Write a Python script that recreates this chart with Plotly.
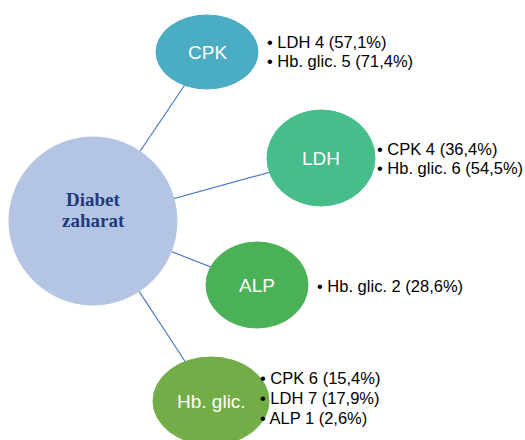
import plotly.graph_objects as go

# Central condition and the linked markers
center_lines = ["Diabet", "zaharat"]
nodes = ["CPK", "LDH", "ALP", "Hb. glic."]
details = {
    "CPK": ["LDH 4 (57,1%)", "Hb. glic. 5 (71,4%)"],
    "LDH": ["CPK 4 (36,4%)", "Hb. glic. 6 (54,5%)"],
    "ALP": ["Hb. glic. 2 (28,6%)"],
    "Hb. glic.": ["CPK 6 (15,4%)", "LDH 7 (17,9%)", "ALP 1 (2,6%)"],
}

# Diagram layout (pixel space, y downwards)
center_geom = dict(cx=93, cy=221, rx=84, ry=84, color="#B4C5E3",
                   text_y0=199, text_dy=21)
node_geom = {
    "CPK": dict(cx=207, cy=52, rx=51, ry=37, color="#4AADC4"),
    "LDH": dict(cx=321, cy=158, rx=54, ry=48, color="#47BD8B"),
    "ALP": dict(cx=257, cy=285, rx=51, ry=43, color="#4AB156"),
    "Hb. glic.": dict(cx=211, cy=401, rx=58, ry=44, color="#72AD47"),
}
detail_geom = {
    "CPK": dict(x=265, y0=42, dy=19),
    "LDH": dict(x=375, y0=149, dy=18.5),
    "ALP": dict(x=315, y0=286, dy=19),
    "Hb. glic.": dict(x=258, y0=378, dy=20.2),
}
line_color = "#4A76C8"

shapes = []
annotations = []

# Connectors, drawn first so the bubbles cover their ends
for n in nodes:
    g = node_geom[n]
    shapes.append(dict(type="line", xref="x", yref="y", layer="below",
                       x0=center_geom["cx"], y0=center_geom["cy"],
                       x1=g["cx"], y1=g["cy"],
                       line=dict(color=line_color, width=1.2)))

def bubble(g):
    return dict(type="circle", xref="x", yref="y", layer="below",
                x0=g["cx"] - g["rx"], x1=g["cx"] + g["rx"],
                y0=g["cy"] - g["ry"], y1=g["cy"] + g["ry"],
                fillcolor=g["color"], line=dict(color=g["color"], width=1))

shapes.append(bubble(center_geom))
for i, t in enumerate(center_lines):
    annotations.append(dict(x=center_geom["cx"],
                            y=center_geom["text_y0"] + i * center_geom["text_dy"],
                            xref="x", yref="y", text="<b>" + t + "</b>",
                            showarrow=False, xanchor="center", yanchor="middle",
                            font=dict(family="Liberation Serif", size=19, color="#1F3B7D")))

for n in nodes:
    g = node_geom[n]
    shapes.append(bubble(g))
    annotations.append(dict(x=g["cx"], y=g["cy"], xref="x", yref="y", text=n,
                            showarrow=False, xanchor="center", yanchor="middle",
                            font=dict(family="Liberation Sans", size=19, color="white")))
    d = detail_geom[n]
    for i, line in enumerate(details[n]):
        annotations.append(dict(x=d["x"], y=d["y0"] + i * d["dy"], xref="x", yref="y",
                                text="• " + line, showarrow=False,
                                xanchor="left", yanchor="middle",
                                font=dict(family="Liberation Sans", size=16.5, color="black")))

fig = go.Figure()
fig.update_layout(
    width=525, height=440,
    margin=dict(l=0, r=0, t=0, b=0),
    paper_bgcolor="white", plot_bgcolor="white",
    xaxis=dict(range=[0, 525], visible=False, fixedrange=True),
    yaxis=dict(range=[440, 0], visible=False, fixedrange=True),
    shapes=shapes, annotations=annotations, showlegend=False,
)
fig.write_html("out.html")
